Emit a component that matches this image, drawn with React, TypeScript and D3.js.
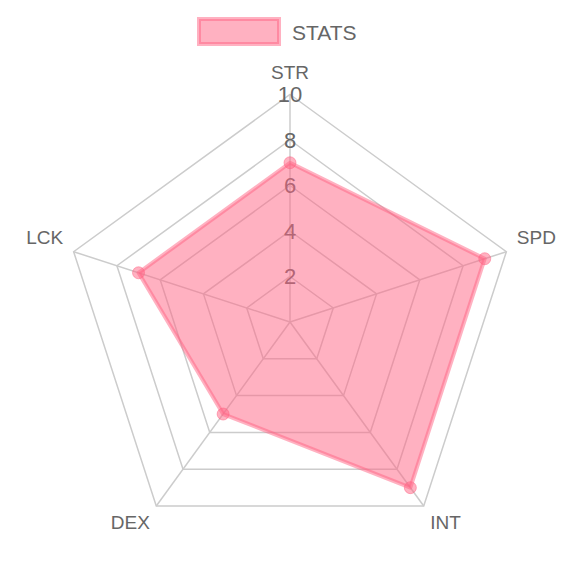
import * as d3 from 'd3';

const axes = ['STR', 'SPD', 'INT', 'DEX', 'LCK'];
const stats = [7, 9, 9, 5, 7];
const ticks = [2, 4, 6, 8, 10];
const seriesName = 'STATS';

const W = 580;
const H = 580;
const cx = 290;
const cy = 322;
const R = 227.5;
const font = '"Helvetica Neue", Helvetica, Arial, "Liberation Sans", sans-serif';
const fillC = 'rgba(255, 99, 132, 0.5)';

export default function App() {
  const r = d3.scaleLinear().domain([0, 10]).range([0, R]);
  const angle = (i: number) => (i * 2 * Math.PI) / axes.length;
  const pt = (i: number, rad: number): [number, number] => [
    cx + rad * Math.sin(angle(i)),
    cy - rad * Math.cos(angle(i)),
  ];

  const radial = d3
    .lineRadial<number>()
    .angle((_, i) => angle(i))
    .radius((d) => r(d))
    .curve(d3.curveLinearClosed);

  const ring = (v: number) => radial(axes.map(() => v)) || '';

  // point label placement, chart.js style
  const labelPos = (i: number) => {
    const [x, y] = pt(i, R + 11);
    const deg = (angle(i) * 180) / Math.PI;
    let anchor = 'middle';
    if (deg > 1 && deg < 179) anchor = 'start';
    else if (deg > 181 && deg < 359) anchor = 'end';
    const top = deg > 90 && deg < 270;
    return { x, y: top ? y + 14.5 : y - 4.5, anchor };
  };

  return (
    <svg
      width={W}
      height={H}
      style={{ position: 'absolute', left: 0, top: 0, background: '#fff' }}
      fontFamily={font}
    >
      {/* Legend */}
      <rect x={199} y={19} width={80} height={25} fill={fillC} stroke={fillC} strokeWidth={4} />
      <text x={292} y={32} dominantBaseline="central" fontSize={21} fill="#666">
        {seriesName}
      </text>

      <g transform={`translate(${cx},${cy})`}>
        {ticks.map((t) => (
          <path key={t} d={ring(t)} fill="none" stroke="#cccccc" strokeWidth={1.5} />
        ))}
      </g>
      {axes.map((a, i) => {
        const [x, y] = pt(i, R);
        return <line key={a} x1={cx} y1={cy} x2={x} y2={y} stroke="#cccccc" strokeWidth={1.5} />;
      })}

      {ticks.map((t) => (
        <text
          key={t}
          x={cx}
          y={cy - r(t)}
          textAnchor="middle"
          dominantBaseline="central"
          fontSize={22}
          fill="#666"
        >
          {t}
        </text>
      ))}

      {axes.map((a, i) => {
        const p = labelPos(i);
        return (
          <text key={a} x={p.x} y={p.y} textAnchor={p.anchor} fontSize={19} fill="#666">
            {a}
          </text>
        );
      })}

      {/* Dataset */}
      <g transform={`translate(${cx},${cy})`}>
        <path d={radial(stats) || ''} fill={fillC} stroke={fillC} strokeWidth={4} strokeLinejoin="round" />
      </g>
      {stats.map((v, i) => {
        const [x, y] = pt(i, r(v));
        return <circle key={i} cx={x} cy={y} r={6} fill={fillC} stroke={fillC} strokeWidth={1} />;
      })}
    </svg>
  );
}
